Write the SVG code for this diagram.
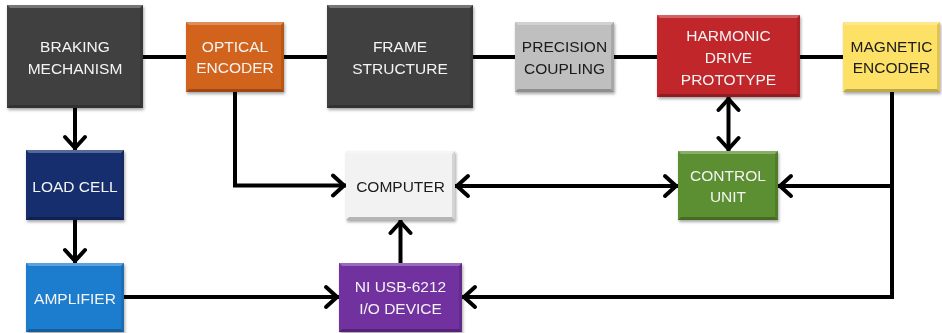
<svg xmlns="http://www.w3.org/2000/svg" width="942" height="333" viewBox="0 0 942 333">
  <defs>
    <filter id="shadow" x="-10%" y="-10%" width="120%" height="130%">
      <feDropShadow dx="1" dy="2" stdDeviation="1.6" flood-color="#000" flood-opacity="0.35"/>
    </filter>
    <marker id="arrow" viewBox="-16 -13 18 26" markerUnits="userSpaceOnUse" markerWidth="18" markerHeight="26" refX="0" refY="0" orient="auto-start-reverse">
      <path d="M-13,-10 L-2,0 L-13,10" fill="none" stroke="#000" stroke-width="4" stroke-linejoin="round" stroke-linecap="round"/>
    </marker>
  </defs>
  <style>
    .wire { fill: none; stroke: #000; stroke-width: 4; }
    .box { filter: url(#shadow); }
    .hi { fill: #fff; opacity: 0.28; }
    .lo { fill: #000; opacity: 0.25; }
    .side { fill: #000; opacity: 0.12; }
    text { font-family: "Liberation Sans", Arial, sans-serif; font-size: 15.5px; text-anchor: middle; }
    .light { fill: #f4f4f4; }
    .dark { fill: #1a1a1a; }
  </style>

  <rect width="942" height="333" fill="#fff"/>

  <g id="connectors">
    <!-- mechanical chain along the top -->
    <path class="wire" d="M143,57 H186 M284,57 H327 M473,57 H515 M614,57 H657 M800,57 H843"/>
    <path class="wire" d="M75,108 V150" marker-end="url(#arrow)"/>
    <path class="wire" d="M75,220 V263" marker-end="url(#arrow)"/>
    <path class="wire" d="M235,92 V185.5 H346" marker-end="url(#arrow)"/>
    <path class="wire" d="M124,297 H339" marker-end="url(#arrow)"/>
    <path class="wire" d="M400.5,263 V220" marker-end="url(#arrow)"/>
    <path class="wire" d="M455,186 H678" marker-start="url(#arrow)" marker-end="url(#arrow)"/>
    <path class="wire" d="M728.5,97 V151" marker-start="url(#arrow)" marker-end="url(#arrow)"/>
    <path class="wire" d="M892,92 V297 H462" marker-end="url(#arrow)"/>
    <path class="wire" d="M892,186 H778" marker-end="url(#arrow)"/>
  </g>

  <g id="braking-mechanism" class="box">
    <rect x="7" y="5" width="136" height="103" fill="#404040"/>
    <path class="hi" d="M7,5 H143 L140,8 H10 Z"/>
    <path class="lo" d="M7,108 H143 L140,105 H10 Z"/>
    <path class="side" d="M143,5 V108 L140,105 V8 Z"/>
    <text class="light" x="75" y="52">BRAKING</text>
    <text class="light" x="75" y="74">MECHANISM</text>
  </g>

  <g id="optical-encoder" class="box">
    <rect x="186" y="22" width="98" height="70" fill="#d2631b"/>
    <path class="hi" d="M186,22 H284 L281,25 H189 Z"/>
    <path class="lo" d="M186,92 H284 L281,89 H189 Z"/>
    <path class="side" d="M284,22 V92 L281,89 V25 Z"/>
    <text class="light" x="235" y="52">OPTICAL</text>
    <text class="light" x="235" y="73">ENCODER</text>
  </g>

  <g id="frame-structure" class="box">
    <rect x="327" y="5" width="146" height="103" fill="#404040"/>
    <path class="hi" d="M327,5 H473 L470,8 H330 Z"/>
    <path class="lo" d="M327,108 H473 L470,105 H330 Z"/>
    <path class="side" d="M473,5 V108 L470,105 V8 Z"/>
    <text class="light" x="400" y="52">FRAME</text>
    <text class="light" x="400" y="74">STRUCTURE</text>
  </g>

  <g id="precision-coupling" class="box">
    <rect x="515" y="22" width="99" height="70" fill="#bfbfbf"/>
    <path class="hi" d="M515,22 H614 L611,25 H518 Z"/>
    <path class="lo" d="M515,92 H614 L611,89 H518 Z"/>
    <path class="side" d="M614,22 V92 L611,89 V25 Z"/>
    <text class="dark" x="564.5" y="52">PRECISION</text>
    <text class="dark" x="564.5" y="74">COUPLING</text>
  </g>

  <g id="harmonic-drive-prototype" class="box">
    <rect x="657" y="15" width="143" height="82" fill="#c0282b"/>
    <path class="hi" d="M657,15 H800 L797,18 H660 Z"/>
    <path class="lo" d="M657,97 H800 L797,94 H660 Z"/>
    <path class="side" d="M800,15 V97 L797,94 V18 Z"/>
    <text class="light" x="728.5" y="41">HARMONIC</text>
    <text class="light" x="728.5" y="63">DRIVE</text>
    <text class="light" x="728.5" y="85">PROTOTYPE</text>
  </g>

  <g id="magnetic-encoder" class="box">
    <rect x="843" y="22" width="97" height="70" fill="#fde066"/>
    <path class="hi" d="M843,22 H940 L937,25 H846 Z"/>
    <path class="lo" d="M843,92 H940 L937,89 H846 Z"/>
    <path class="side" d="M940,22 V92 L937,89 V25 Z"/>
    <text class="dark" x="891.5" y="52">MAGNETIC</text>
    <text class="dark" x="891.5" y="73">ENCODER</text>
  </g>

  <g id="load-cell" class="box">
    <rect x="26" y="150" width="98" height="70" fill="#152f6e"/>
    <path class="hi" d="M26,150 H124 L121,153 H29 Z"/>
    <path class="lo" d="M26,220 H124 L121,217 H29 Z"/>
    <path class="side" d="M124,150 V220 L121,217 V153 Z"/>
    <text class="light" x="75" y="192">LOAD CELL</text>
  </g>

  <g id="amplifier" class="box">
    <rect x="26" y="263" width="98" height="69" fill="#1e7dcf"/>
    <path class="hi" d="M26,263 H124 L121,266 H29 Z"/>
    <path class="lo" d="M26,332 H124 L121,329 H29 Z"/>
    <path class="side" d="M124,263 V332 L121,329 V266 Z"/>
    <text class="light" x="75" y="304">AMPLIFIER</text>
  </g>

  <g id="computer" class="box">
    <rect x="346" y="151" width="109" height="69" fill="#f2f2f2"/>
    <path class="hi" d="M346,151 H455 L452,154 H349 Z"/>
    <path class="lo" d="M346,220 H455 L452,217 H349 Z" opacity="0.12"/>
    <path class="side" d="M455,151 V220 L452,217 V154 Z"/>
    <text class="dark" x="400.5" y="192">COMPUTER</text>
  </g>

  <g id="ni-usb-6212" class="box">
    <rect x="339" y="263" width="123" height="69" fill="#7131a0"/>
    <path class="hi" d="M339,263 H462 L459,266 H342 Z"/>
    <path class="lo" d="M339,332 H462 L459,329 H342 Z"/>
    <path class="side" d="M462,263 V332 L459,329 V266 Z"/>
    <text class="light" x="400.5" y="292">NI USB-6212</text>
    <text class="light" x="400.5" y="314">I/O DEVICE</text>
  </g>

  <g id="control-unit" class="box">
    <rect x="678" y="151" width="100" height="69" fill="#5b8f31"/>
    <path class="hi" d="M678,151 H778 L775,154 H681 Z"/>
    <path class="lo" d="M678,220 H778 L775,217 H681 Z"/>
    <path class="side" d="M778,151 V220 L775,217 V154 Z"/>
    <text class="light" x="728" y="181">CONTROL</text>
    <text class="light" x="728" y="202">UNIT</text>
  </g>
</svg>
